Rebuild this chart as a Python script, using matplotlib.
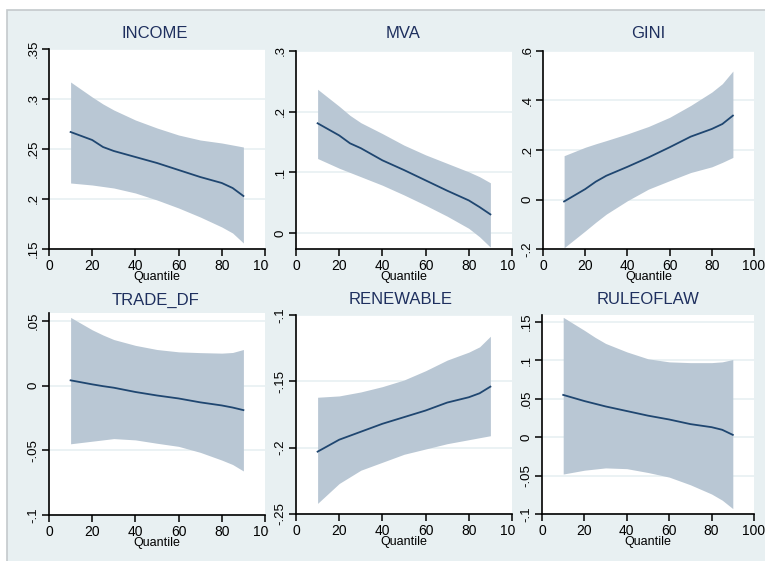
import matplotlib
matplotlib.use("Agg")
import matplotlib.pyplot as plt
from matplotlib.patches import Rectangle
from matplotlib.transforms import Bbox, TransformedBbox

plt.rcParams['font.family'] = ['Liberation Sans', 'DejaVu Sans']

quantile = [10, 20, 25, 30, 40, 50, 60, 70, 80, 85, 90]

income_coef = [0.267, 0.259, 0.252, 0.248, 0.242, 0.236, 0.229, 0.222, 0.216, 0.211, 0.203]
income_hi   = [0.317, 0.302, 0.295, 0.289, 0.279, 0.271, 0.264, 0.259, 0.256, 0.254, 0.252]
income_lo   = [0.216, 0.214, 0.2125, 0.211, 0.206, 0.199, 0.191, 0.182, 0.172, 0.166, 0.156]

mva_coef = [0.181, 0.161, 0.148, 0.140, 0.120, 0.104, 0.087, 0.070, 0.054, 0.043, 0.031]
mva_hi   = [0.237, 0.209, 0.194, 0.182, 0.164, 0.145, 0.129, 0.115, 0.101, 0.093, 0.083]
mva_lo   = [0.123, 0.107, 0.100, 0.093, 0.079, 0.063, 0.046, 0.028, 0.008, -0.006, -0.023]

gini_coef = [-0.008, 0.042, 0.072, 0.096, 0.132, 0.170, 0.211, 0.254, 0.285, 0.305, 0.339]
gini_hi   = [0.177, 0.211, 0.225, 0.238, 0.265, 0.295, 0.332, 0.380, 0.434, 0.468, 0.519]
gini_lo   = [-0.195, -0.127, -0.092, -0.059, -0.005, 0.042, 0.076, 0.109, 0.132, 0.150, 0.170]

trade_coef = [0.004, 0.0009, -0.0005, -0.0017, -0.005, -0.0077, -0.010, -0.013, -0.0154, -0.017, -0.019]
trade_hi   = [0.0526, 0.043, 0.039, 0.0355, 0.031, 0.0278, 0.026, 0.0254, 0.025, 0.0255, 0.0278]
trade_lo   = [-0.045, -0.043, -0.042, -0.041, -0.042, -0.0446, -0.047, -0.0516, -0.0576, -0.061, -0.066]

renew_coef = [-0.203, -0.194, -0.191, -0.188, -0.182, -0.177, -0.172, -0.166, -0.162, -0.159, -0.154]
renew_hi   = [-0.162, -0.161, -0.1595, -0.158, -0.154, -0.149, -0.142, -0.134, -0.128, -0.124, -0.116]
renew_lo   = [-0.242, -0.227, -0.222, -0.217, -0.211, -0.205, -0.201, -0.197, -0.194, -0.1925, -0.191]

rule_coef = [0.055, 0.047, 0.0435, 0.040, 0.034, 0.028, 0.023, 0.017, 0.013, 0.0096, 0.003]
rule_hi   = [0.156, 0.139, 0.130, 0.122, 0.111, 0.102, 0.098, 0.097, 0.097, 0.098, 0.101]
rule_lo   = [-0.048, -0.043, -0.0415, -0.040, -0.041, -0.046, -0.052, -0.062, -0.074, -0.082, -0.093]

titles = ["INCOME", "MVA", "GINI", "TRADE_DF", "RENEWABLE", "RULEOFLAW"]
x_ticks = [0, 20, 40, 60, 80, 100]
x_ticklabels = ["0", "20", "40", "60", "80", "100"]

yticks_all = [
    ([0.15, 0.2, 0.25, 0.3, 0.35], [".15", ".2", ".25", ".3", ".35"]),
    ([0, 0.1, 0.2, 0.3], ["0", ".1", ".2", ".3"]),
    ([-0.2, 0, 0.2, 0.4, 0.6], ["-.2", "0", ".2", ".4", ".6"]),
    ([-0.1, -0.05, 0, 0.05], ["-.1", "-.05", "0", ".05"]),
    ([-0.25, -0.2, -0.15, -0.1], ["-.25", "-.2", "-.15", "-.1"]),
    ([-0.1, -0.05, 0, 0.05, 0.1, 0.15], ["-.1", "-.05", "0", ".05", ".1", ".15"]),
]
series = [
    (income_coef, income_lo, income_hi),
    (mva_coef, mva_lo, mva_hi),
    (gini_coef, gini_lo, gini_hi),
    (trade_coef, trade_lo, trade_hi),
    (renew_coef, renew_lo, renew_hi),
    (rule_coef, rule_lo, rule_hi),
]
ylims = [(0.15, 0.35), (-0.026, 0.3), (-0.2, 0.6), (-0.1, 0.056), (-0.25, -0.1), (-0.1, 0.159)]

# pixel layout (x0, x1, ytop, ybottom)
W, H = 765, 561
rects = [
    (49, 265, 49, 249), (296, 512, 51, 249), (543, 754, 51, 249),
    (49, 265, 313, 515), (296, 512, 315, 514), (542, 754, 315, 514),
]
title_pos = [(155, 34), (403, 34), (648, 34), (155, 300), (401, 300), (648, 300)]
clip_right = [269, 515, None, 269, 515, None]

BG = "#e8f0f2"
FILL = "#b9c7d4"
LINE = "#1f4670"
TITLE_C = "#1e2f5e"

fig = plt.figure(figsize=(W / 100, H / 100), dpi=100)
fig.patch.set_facecolor("white")
bg = Rectangle((7 / W, -0.01), 1, 1.01 - 10 / H, transform=fig.transFigure,
               facecolor=BG, edgecolor="#c4c9cc", linewidth=1.2, zorder=-10)
fig.add_artist(bg)

for i in range(6):
    x0, x1, yt, yb = rects[i]
    ax = fig.add_axes([x0 / W, 1 - yb / H, (x1 - x0) / W, (yb - yt) / H], zorder=1)
    ax.set_facecolor("white")
    coef, lo, hi = series[i]
    ax.fill_between(quantile, lo, hi, color=FILL, linewidth=0, zorder=2)
    ax.plot(quantile, coef, color=LINE, linewidth=1.3, zorder=3)
    ax.set_xlim(0, 100)
    ax.set_ylim(*ylims[i])
    yt_vals, yt_labels = yticks_all[i]
    ax.set_yticks(yt_vals)
    ax.set_yticklabels(yt_labels, rotation=90, va="center", fontsize=9.5)
    ax.set_xticks(x_ticks)
    ax.set_xticklabels(x_ticklabels, fontsize=10)
    ax.grid(axis="y", color=BG, linewidth=1.2, zorder=1)
    ax.set_axisbelow(True)
    for s in ["top", "right"]:
        ax.spines[s].set_visible(False)
    for s in ["left", "bottom"]:
        ax.spines[s].set_linewidth(1.2)
        ax.spines[s].set_color("black")
    ax.tick_params(direction="out", length=5, width=1.1, pad=2, colors="black")
    ax.set_xlabel("Quantile", fontsize=9, labelpad=-1)
    fig.text(title_pos[i][0] / W, 1 - title_pos[i][1] / H, titles[i],
             ha="center", va="center", fontsize=12, color=TITLE_C)
    if clip_right[i] is not None:
        cb = TransformedBbox(Bbox([[0, 0], [clip_right[i] / W, 1]]), fig.transFigure)
        for lab in ax.get_xticklabels():
            lab.set_clip_box(cb)
            lab.set_clip_on(True)

fig.savefig("out.png", dpi=100, facecolor=fig.get_facecolor())
